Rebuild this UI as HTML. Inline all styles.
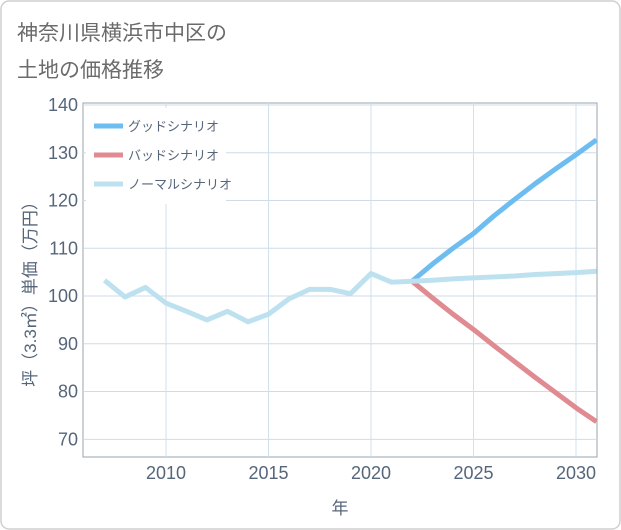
<!DOCTYPE html>
<html><head><meta charset="utf-8"><style>
body{margin:0;background:#fff;font-family:"Liberation Sans","Noto Sans CJK JP",sans-serif;}
#wrap{position:relative;width:621px;height:530px;}
</style></head><body>
<div id="wrap">
<svg id="chart" width="621" height="530" xmlns="http://www.w3.org/2000/svg" style="position:absolute;left:0;top:0">
<rect x="1" y="1" width="619" height="528" rx="8" fill="#fff" stroke="#cfcfcf" stroke-width="1.5"/>
<text x="17" y="40" font-size="21" fill="#6b6b6b" font-family="Liberation Sans,Noto Sans CJK JP,sans-serif">神奈川県横浜市中区の</text>
<text x="17" y="77" font-size="21" fill="#6b6b6b" font-family="Liberation Sans,Noto Sans CJK JP,sans-serif">土地の価格推移</text>
<g id="grid"></g><g id="series"></g><g id="axes"></g><g id="legend"></g>
</svg></div>
<script>
const years=[2007,2008,2009,2010,2011,2012,2013,2014,2015,2016,2017,2018,2019,2020,2021,2022];
const normalHist=[103.3,99.8,101.8,98.5,96.8,95,96.8,94.6,96.2,99.4,101.4,101.4,100.5,104.7,102.9,103.1];
const futureYears=[2022,2023,2024,2025,2026,2027,2028,2029,2030,2031];
const goodVals=[103.1,106.7,110,113.1,116.8,120.2,123.5,126.6,129.6,132.7];
const badVals=[103.1,99.6,96.2,93,89.6,86.3,83,79.8,76.6,73.7];
const normalFuture=[103.1,103.3,103.6,103.8,104.0,104.2,104.5,104.7,104.9,105.2];
const yTicks=[70,80,90,100,110,120,130,140];
const xTicks=[2010,2015,2020,2025,2030];
const NS="http://www.w3.org/2000/svg";
const L=83,R=597,T=103,B=457;
const xs=v=>166+(v-2010)*20.5;
const ys=v=>105+(140-v)*4.776;
function mk(tag,attrs,parent){const e=document.createElementNS(NS,tag);for(const k in attrs)e.setAttribute(k,attrs[k]);parent.appendChild(e);return e;}
const grid=document.getElementById('grid'),ser=document.getElementById('series'),ax=document.getElementById('axes'),lg=document.getElementById('legend');
const frame=mk('rect',{x:L,y:T,width:R-L,height:B-T,fill:'#fff',stroke:'#9aa3ad','stroke-width':1},grid);


yTicks.forEach(v=>{const l=mk('line',{x1:L,x2:R,y1:ys(v),y2:ys(v),stroke:'#cfdbe6','stroke-width':1},grid);


const t=mk('text',{x:L-5,y:ys(v)+6,'text-anchor':'end','font-size':18,fill:'#56667a'},ax);t.textContent=v;

});
xTicks.forEach(v=>{const l=mk('line',{x1:xs(v),x2:xs(v),y1:T,y2:B,stroke:'#cfe0ee','stroke-width':1},grid);


const t=mk('text',{x:xs(v),y:479,'text-anchor':'middle','font-size':18,fill:'#56667a'},ax);t.textContent=v;

});
function line(xv,yv,color,name){const p=mk('polyline',{points:xv.map((x,i)=>xs(x)+','+ys(yv[i])).join(' '),fill:'none',stroke:color,'stroke-width':5,'stroke-linejoin':'round'},ser);

}
line(futureYears,goodVals,'#6dbdf0','good-scenario-line');
line(futureYears,badVals,'#e08a92','bad-scenario-line');
line(years,normalHist,'#bde1ef','normal-history-line');
line(futureYears,normalFuture,'#bde1ef','normal-scenario-line');
const xt=mk('text',{x:340,y:514,'text-anchor':'middle','font-size':17,fill:'#56667a'},ax);xt.textContent='年';


const yt=mk('text',{x:0,y:0,'text-anchor':'middle','font-size':17,fill:'#56667a',transform:'translate(36,290) rotate(-90)'},ax);yt.textContent='坪（3.3㎡）単価（万円）';


const lb=mk('rect',{x:86,y:108,width:140,height:96,fill:'#fff'},lg);


[['グッドシナリオ','#6dbdf0'],['バッドシナリオ','#e08a92'],['ノーマルシナリオ','#bde1ef']].forEach((d,i)=>{const y=126+i*29;
const sw=mk('line',{x1:94,x2:123,y1:y,y2:y,stroke:d[1],'stroke-width':5},lg);


const t=mk('text',{x:128,y:y+5,'font-size':13,fill:'#56667a'},lg);t.textContent=d[0];

});
</script>
</body></html>
